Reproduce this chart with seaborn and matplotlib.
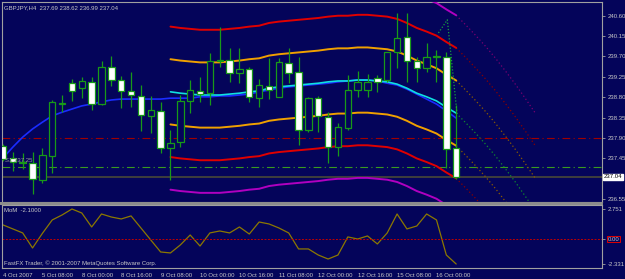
import matplotlib
matplotlib.use("Agg")
import matplotlib.pyplot as plt
import seaborn as sns
import numpy as np
import pandas as pd
from matplotlib.patches import Rectangle

# GBPJPY H4 candles, 4 Oct 2007 16:00 .. 16 Oct 2007 08:00
opens = [237.72, 237.46, 237.36, 237.35, 236.97, 237.50, 238.66, 239.11, 239.00, 239.14,
         238.65, 239.47, 239.18, 238.94, 238.83, 238.39, 238.50, 237.68, 237.81, 238.72,
         238.94, 238.89, 239.61, 239.62, 239.34, 239.42, 238.78, 239.05, 238.81, 239.56,
         239.36, 238.08, 238.78, 238.36, 237.70, 238.12, 238.96, 238.96, 239.22, 239.18,
         239.80, 240.13, 239.60, 239.45, 239.69, 239.69, 237.69]
highs = [237.76, 237.59, 237.57, 237.59, 237.68, 238.74, 238.85, 239.20, 239.25, 239.25,
         239.60, 239.71, 239.27, 239.36, 239.07, 238.83, 238.70, 238.08, 238.85, 239.18,
         239.25, 239.78, 240.35, 239.89, 239.89, 239.47, 239.20, 239.67, 239.67, 239.89,
         239.69, 238.81, 238.83, 238.47, 238.23, 239.29, 239.38, 239.31, 239.29, 239.80,
         240.66, 240.66, 239.69, 240.00, 239.84, 239.80, 238.62]
lows = [237.40, 237.17, 237.22, 236.66, 236.91, 237.13, 238.47, 238.72, 238.78, 238.52,
        238.63, 239.05, 238.56, 238.58, 238.05, 238.01, 237.57, 236.97, 237.70, 238.45,
        238.70, 238.63, 239.47, 239.14, 239.11, 238.70, 238.58, 238.76, 238.81, 239.11,
        237.75, 238.03, 238.03, 237.35, 237.50, 238.08, 238.81, 238.81, 238.92, 239.14,
        239.45, 239.14, 239.14, 239.36, 239.14, 237.24, 236.99]
closes = [237.44, 237.37, 237.35, 237.00, 237.52, 238.70, 238.67, 238.94, 239.16, 238.65,
          239.47, 239.18, 238.94, 238.85, 238.41, 238.52, 237.68, 237.79, 238.72, 238.96,
          238.87, 239.60, 239.62, 239.34, 239.42, 238.81, 239.07, 238.96, 239.58, 239.34,
          238.08, 238.78, 238.39, 237.70, 238.14, 238.96, 239.14, 239.14, 239.14, 239.80,
          240.11, 239.60, 239.45, 239.69, 239.69, 237.66, 237.04]

# moving average (blue), whole range
ma_blue = [237.46, 237.70, 237.92, 238.10, 238.25, 238.39, 238.47, 238.54, 238.61, 238.65,
           238.70, 238.74, 238.76, 238.76, 238.76, 238.76, 238.76, 238.78, 238.78, 238.78,
           238.81, 238.81, 238.83, 238.83, 238.85, 238.87, 238.92, 238.96, 239.00, 239.03,
           239.05, 239.07, 239.09, 239.11, 239.14, 239.16, 239.18, 239.18, 239.16, 239.11,
           239.07, 238.98, 238.87, 238.76, 238.65, 238.50, 238.34]

# channel centre (cyan), from bar 17 on
band_start = 17
band_mid = [238.92, 238.89, 238.87, 238.85, 238.85, 238.85, 238.87, 238.89, 238.92, 238.94,
            239.00, 239.03, 239.05, 239.07, 239.09, 239.11, 239.14, 239.16, 239.16, 239.18,
            239.18, 239.16, 239.14, 239.09, 239.00, 238.89, 238.81, 238.72, 238.58, 238.45]
band_offsets = [0.72, 1.44, 2.16]

# projected centre beyond the last bar
proj_mid = [238.45, 238.23, 238.00, 237.76, 237.50, 237.22, 236.93, 236.62, 236.30]

# dotted zigzag near the top right
zz_bars = [44.2, 45.1, 46.1]
zz_vals = [240.22, 240.51, 238.41]

mom = [1.28, 0.91, 0.54, -0.85, 0.50, 1.74, 2.20, 2.751, 2.38, 1.09,
       2.29, 2.01, 1.83, 2.11, 1.00, -0.11, -1.22, -1.31, -0.57, 0.35,
       -0.67, 0.54, 0.72, 0.54, 1.09, 0.44, 1.55, 1.37, 1.00, 0.54,
       -0.94, -0.94, -1.50, -1.87, -1.50, 0.17, -0.02, 0.26, -0.48, 0.54,
       2.29, 0.91, 1.18, 2.29, 1.74, -1.50, -2.331]

price_ticks = [240.60, 240.15, 239.70, 239.25, 238.80, 238.35, 237.90, 237.45, 236.55]
time_labels = ['4 Oct 2007', '5 Oct 08:00', '8 Oct 00:00', '8 Oct 16:00', '9 Oct 08:00',
               '10 Oct 00:00', '10 Oct 16:00', '11 Oct 08:00', '12 Oct 00:00',
               '12 Oct 16:00', '15 Oct 08:00', '16 Oct 00:00']
time_every = 4

resist_line = 237.91
support_line = 237.25
support_label = 'S1 237.25'
last_price = 237.04

BG = '#04045a'
GRID = '#a0a0a0'
TXT = '#c8c8c8'
FONT = 'Liberation Sans'
FS = 4.3

W, H = 625, 279
fig = plt.figure(figsize=(W / 100, H / 100), dpi=100, facecolor=BG)
sns.set_style('dark')
plt.rcParams['font.family'] = [FONT, 'DejaVu Sans']


def box(l, t, r, b):
    return [l / W, 1 - b / H, (r - l) / W, (b - t) / H]


ax = fig.add_axes(box(2, 2, 602, 202))
ax2 = fig.add_axes(box(2, 205, 602, 268))
for a in (ax, ax2):
    a.set_facecolor(BG)
    a.grid(False)
    for s in a.spines.values():
        s.set_color(GRID)
        s.set_linewidth(0.8)

n = len(opens)
df = pd.DataFrame({'bar': np.arange(n), 'open': opens, 'high': highs,
                   'low': lows, 'close': closes})
df['bull'] = df['close'] >= df['open']

# channel lines
bx = np.arange(band_start, band_start + len(band_mid))
mid = np.array(band_mid)
band_cols = ['#f0a000', '#e00000', '#b000c0']
for off, col in zip(band_offsets, band_cols):
    sns.lineplot(x=bx, y=mid + off, ax=ax, color=col, lw=1.4, zorder=4)
    sns.lineplot(x=bx, y=mid - off, ax=ax, color=col, lw=1.4, zorder=4)
sns.lineplot(x=np.arange(n), y=ma_blue, ax=ax, color='#1a2cff', lw=1.2, zorder=4)
sns.lineplot(x=bx, y=mid, ax=ax, color='#10e0e0', lw=1.2, zorder=5)

# dotted projections
px = np.arange(n - 1, n - 1 + len(proj_mid))
pm = np.array(proj_mid)
proj_cols = ['#8a5a00', '#8a0000', '#7a0070']
for off, col in zip(band_offsets, proj_cols):
    ax.plot(px, pm + off, color=col, lw=0.9, ls=(0, (1, 2)), zorder=3)
    ax.plot(px, pm - off, color=col, lw=0.9, ls=(0, (1, 2)), zorder=3)
ax.plot(px, pm, color='#108a30', lw=0.9, ls=(0, (1, 2)), zorder=3)
ax.plot(zz_bars, zz_vals, color='#18a040', lw=0.9, ls=(0, (1, 1.5)), zorder=8)

# candles
ax.vlines(df['bar'], df['low'], df['high'], color='#189a18', lw=0.9, zorder=6)
body_lo = df[['open', 'close']].min(axis=1)
body_h = (df['close'] - df['open']).abs().clip(lower=0.01)
ax.bar(df['bar'], body_h, bottom=body_lo, width=0.65,
       color=np.where(df['bull'], BG, 'white'), edgecolor='#189a18', lw=0.9, zorder=7)

ax.axhline(resist_line, color='#a00000', lw=0.8, ls=(0, (7, 3, 1, 3)), zorder=2)
ax.axhline(support_line, color='#3a9a20', lw=0.8, ls=(0, (7, 3, 1, 3)), zorder=2)
ax.axhline(last_price, color='#484838', lw=1.2, zorder=2)
ax.text(0.2, support_line + 0.09, support_label, fontsize=FS, color='#9a9a9a',
        va='bottom', ha='left', zorder=9)

ax.set_xlim(-0.1, 60.8)
ax.set_ylim(236.488, 240.903)
ax.yaxis.tick_right()
ax.set_yticks(price_ticks)
ax.set_yticklabels([f'{v:.2f}' for v in price_ticks])
ax.tick_params(axis='y', colors=GRID, labelcolor=TXT, labelsize=FS, length=2, width=0.6, pad=2)
ax.set_xticks([])
ax.text(1.003, (last_price - 236.488) / (240.903 - 236.488), f'{last_price:.2f}',
        transform=ax.transAxes, fontsize=FS, color='black', va='center', ha='left',
        bbox=dict(boxstyle='square,pad=0.15', fc='white', ec='white'))

# momentum sub-window
sns.lineplot(x=np.arange(n), y=mom, ax=ax2, color='#8c7800', lw=0.9)
ax2.axhline(0, color='#c00000', lw=0.7, ls=(0, (2, 1.5)))
ax2.set_xlim(-0.1, 60.8)
ax2.set_ylim(-2.70, 3.12)
ax2.yaxis.tick_right()
ax2.set_yticks([2.751, 0.0, -2.331])
ax2.set_yticklabels(['2.751', '0.00', '-2.331'])
ax2.tick_params(axis='y', colors=GRID, labelcolor=TXT, labelsize=FS, length=2, width=0.6, pad=2)
ax2.get_yticklabels()[1].set_bbox(dict(boxstyle='square,pad=0.1', fc=BG, ec='#e00000', lw=0.7))
ax2.set_xticks(np.arange(len(time_labels)) * time_every)
ax2.set_xticklabels(time_labels, ha='left')
ax2.tick_params(axis='x', colors=GRID, labelcolor=TXT, labelsize=FS, length=2, width=0.6, pad=1.5)
ax2.set_ylabel('')

fig.patches.append(Rectangle((0, 1 - 205 / H), 603 / W, 3 / H, transform=fig.transFigure,
                             fc='#8c8c8c', ec='none'))
fig.text(4 / W, 1 - 8 / H, 'GBPJPY,H4  237.69 238.62 236.99 237.04', fontsize=FS,
         color=TXT, va='center')
fig.text(4 / W, 1 - 211 / H, 'MoM  -2.1000', fontsize=FS, color=TXT, va='center')
fig.text(4 / W, 1 - 263 / H, 'FastFX Trader, \u00a9 2001-2007 MetaQuotes Software Corp.',
         fontsize=FS, color=TXT, va='center')

fig.savefig('out.png', dpi=100, facecolor=BG)
